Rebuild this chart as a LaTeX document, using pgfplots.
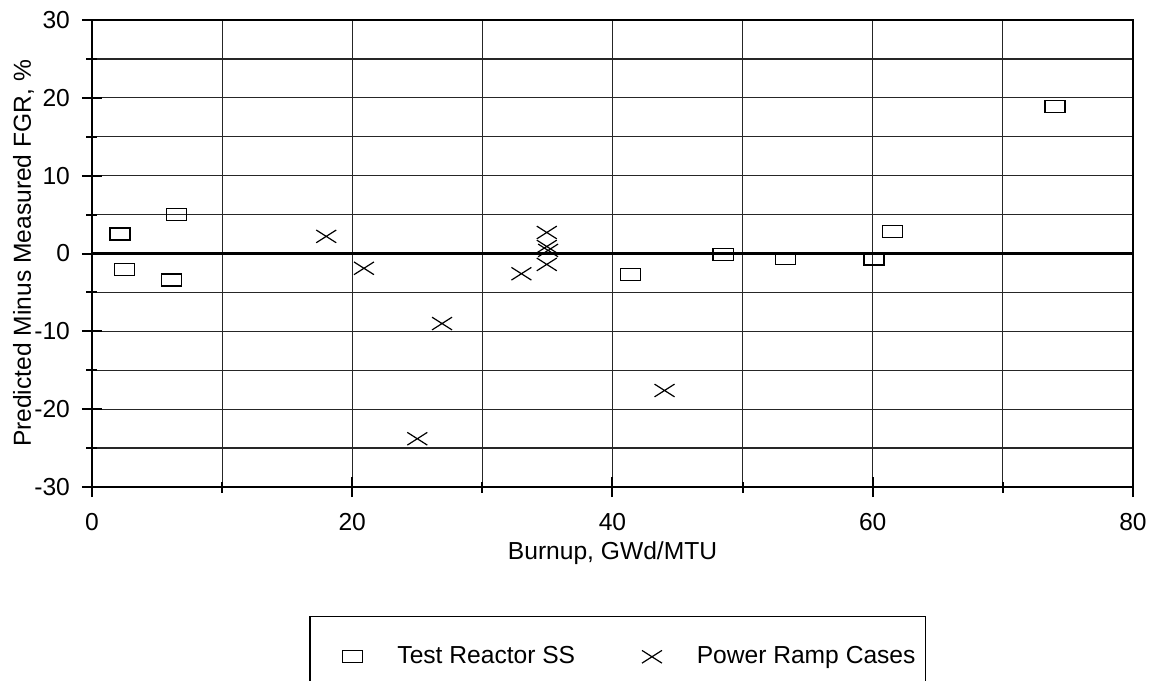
\documentclass[border=0pt]{standalone}
\usepackage{fontspec}
\setmainfont{Liberation Sans}
\usepackage{pgfplots}
\pgfplotsset{compat=1.18}
\pgfplotsset{legimg/.style={legend image code/.code={%
  \path (0pt,0pt) (38pt,0pt); \draw[##1] plot coordinates {(18pt,0pt)};}}}

\begin{document}
\begin{tikzpicture}[font=\fontsize{12.3}{14.5}\selectfont]
\begin{axis}[
  scale only axis, width=520.5pt, height=233.5pt,
  xmin=0, xmax=80, ymin=-30, ymax=30,
  xtick={0,20,...,80}, minor xtick={10,30,50,70},
  ytick={-30,-20,...,30}, minor ytick={-25,-15,...,25},
  grid=both,
  major grid style={line width=0.6pt, black!85},
  minor grid style={line width=0.6pt, black!85},
  axis line style={line width=1.1pt},
  tick align=center, tick pos=left,
  major tick length=10pt, minor tick length=5.5pt,
  tick style={line width=1pt, black},
  /pgf/number format/assume math mode=true,
  xticklabel style={yshift=-4.5pt},
  yticklabel style={xshift=-2.5pt},
  xlabel={Burnup, GWd/MTU},
  ylabel={Predicted Minus Measured FGR, \%},
  every axis x label/.style={at={(axis description cs:0.5,0)}, anchor=north, yshift=-24pt},
  every axis y label/.style={at={(axis description cs:0,0.5)}, rotate=90, anchor=south, yshift=25.5pt},
  extra y ticks={0}, extra y tick labels={},
  extra y tick style={major grid style={line width=1.1pt, black}, major tick length=0pt},
  legend columns=2,
  legend style={at={(0.2085,-0.276)}, anchor=north west, draw=black, line width=0.8pt,
    inner xsep=3pt, inner ysep=13pt,
    /tikz/every even column/.append style={column sep=18pt}},
]
% Test Reactor SS
\addplot[only marks, mark=square, mark size=3pt,
  mark options={line width=0.6pt, xscale=1.67, black}, legimg]
  coordinates {
  (2.15,2.5) (2.5,-2.1) (6.1,-3.4) (6.5,5.0) (41.4,-2.7)
  (48.5,-0.1) (53.3,-0.6) (60.1,-0.7) (61.5,2.8) (74.0,18.9)
};
\addlegendentry{Test Reactor SS}
% Power Ramp Cases
\addplot[only marks, mark=x, mark size=4.5pt,
  mark options={line width=0.6pt, xscale=1.57, black}, legimg]
  coordinates {
  (18.0,2.2) (20.9,-1.9) (25.0,-23.8) (26.9,-9.0) (33.0,-2.6)
  (34.95,2.7) (34.95,0.9) (35.05,0.4) (34.95,-1.4) (44.0,-17.6)
};
\addlegendentry{Power Ramp Cases}
\end{axis}
\pgfresetboundingbox
\path[use as bounding box] (-46pt,-96.5pt) rectangle (529.5pt,243.5pt);
\end{tikzpicture}
\end{document}
